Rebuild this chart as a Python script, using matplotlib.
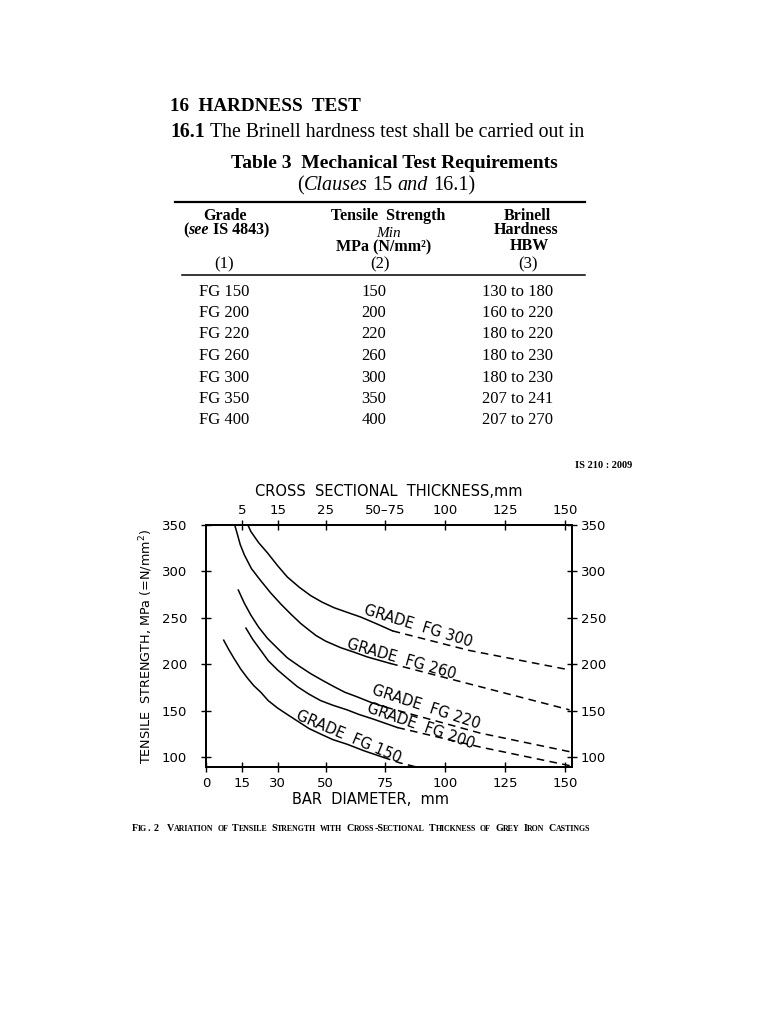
'''
plot.py - IS 210 page: Table 3 and Fig. 2 (tensile strength vs section size)
'''

import matplotlib
matplotlib.use('Agg')
import matplotlib.pyplot as plt
from matplotlib.lines import Line2D

# Table 3 Mechanical Test Requirements
grades = ['FG 150', 'FG 200', 'FG 220', 'FG 260', 'FG 300', 'FG 350', 'FG 400']
tensile_min = [150, 200, 220, 260, 300, 350, 400]
hardness = ['130 to 180', '160 to 220', '180 to 220', '180 to 230',
            '180 to 230', '207 to 241', '207 to 270']

# Fig. 2 axes
bar_ticks = [0, 15, 30, 50, 75, 100, 125, 150]
thick_ticks = [15, 30, 50, 75, 100, 125, 150]
thick_labels = ['5', '15', '25', '50\u201375', '100', '125', '150']
strength_ticks = [100, 150, 200, 250, 300, 350]

# curves: bar diameter (mm) -> tensile strength (MPa)
fg300_x = [17.5, 18.75, 22, 25.7, 30, 34, 39, 43.75, 48.5, 53.5, 59, 64.6, 71, 78]
fg300_y = [350, 343, 331, 320, 306, 294, 283, 274, 267, 261, 256, 251, 244, 236]
fg300_dx = [78, 110, 152]
fg300_dy = [236, 215, 194]

fg260_x = [12, 12.9, 14.3, 16, 19, 22.9, 27, 31.25, 35.5, 39.6, 43, 46, 50, 56.25, 62, 67.4, 77]
fg260_y = [350, 342, 329, 318, 303, 290, 277, 265, 254, 244, 237, 231, 225, 218, 213, 208, 201]
fg260_dx = [77, 110, 152]
fg260_dy = [201, 179, 151]

fg220_x = [13.5, 16, 18.75, 22, 25.7, 30, 34, 39, 43.75, 48.5, 53.5, 58, 63.2, 69, 75]
fg220_y = [280, 266, 253, 240, 228, 217, 207, 198, 190, 183, 176, 170, 165, 159, 154]
fg220_dx = [75, 114.6, 152]
fg220_dy = [154, 126, 106]

fg200_x = [16.7, 19.5, 22.9, 26, 29.9, 34, 38.2, 43, 47.9, 53, 59, 64, 70, 75, 80]
fg200_y = [239, 227, 215, 204, 194, 185, 176, 168, 161, 156, 151, 146, 141, 136.5, 132]
fg200_dx = [80, 114.6, 152]
fg200_dy = [132, 111, 91]

fg150_x = [7.4, 9.5, 11.8, 14.5, 17.4, 20, 22.9, 26, 29.9, 34, 38.2, 43, 47.9, 53, 59, 66, 74]
fg150_y = [226, 216, 206, 195, 185, 177, 170, 161, 153, 146, 139, 131, 125, 119, 114, 107, 100]
fg150_dx = [74, 81, 88]
fg150_dy = [100, 94, 89.5]

W, H = 768, 1024
fig = plt.figure(figsize=(W / 100, H / 100), dpi=100)
renderer = fig.canvas.get_renderer()
SERIF = 'Liberation Serif'


def fx(px):
    return px / W


def fy(py):
    return 1 - py / H


def text_width(s, **kw):
    t = fig.text(0, 0, s, **kw)
    w = t.get_window_extent(renderer).width
    t.remove()
    return w


# write a line made of runs with different styles, one after the other
def put_runs(px, py, runs, ha='left', space=0.25):
    pieces = []
    total = 0
    for s, kw in runs:
        core = s.strip(' ')
        lead = len(s) - len(s.lstrip(' '))
        trail = len(s) - len(s.rstrip(' '))
        sp = space * kw.get('size', 10) * 100 / 72
        total += lead * sp
        pieces.append((total, core, kw))
        if core:
            total += text_width(core, **kw)
        total += trail * sp
    x0 = px - (total / 2 if ha == 'center' else 0)
    for off, core, kw in pieces:
        if core:
            fig.text(fx(x0 + off), fy(py), core, va='baseline', **kw)


# small caps: capitals big, lower case letters as small capitals
def small_caps(px, py, s, big=7.2, small=5.7):
    runs = []
    for word in s.split(' '):
        if runs:
            runs.append((' ', dict(family=SERIF, weight='bold', size=big)))
        cur = ''
        low = None
        for ch in word:
            is_low = ch.islower()
            if low is not None and is_low != low:
                runs.append((cur.upper(), dict(family=SERIF, weight='bold',
                                               size=small if low else big)))
                cur = ''
            cur += ch
            low = is_low
        if cur:
            runs.append((cur.upper(), dict(family=SERIF, weight='bold',
                                           size=small if low else big)))
    put_runs(px, py, runs, ha='center', space=0.2)


# ---------------- page text ----------------
fig.text(fx(170), fy(111), '16  HARDNESS  TEST', family=SERIF, weight='bold',
         size=13.8, va='baseline')
put_runs(170, 137, [('16.1', dict(family=SERIF, weight='bold', size=14.2)),
                    (' The Brinell hardness test shall be carried out in',
                     dict(family=SERIF, size=14.2))])
fig.text(fx(394), fy(168), 'Table 3  Mechanical Test Requirements', family=SERIF,
         weight='bold', size=14, ha='center', va='baseline')
put_runs(386, 190, [('(', dict(family=SERIF, size=14.5)),
                    ('Clauses', dict(family=SERIF, style='italic', size=14.5)),
                    (' 15 ', dict(family=SERIF, size=14.5)),
                    ('and', dict(family=SERIF, style='italic', size=14.5)),
                    (' 16.1)', dict(family=SERIF, size=14.5))], ha='center')

# table rules
fig.add_artist(Line2D([fx(175), fx(585)], [fy(202), fy(202)], color='black', lw=1.6))
fig.add_artist(Line2D([fx(182), fx(585)], [fy(275), fy(275)], color='black', lw=1.1))

hb = dict(family=SERIF, weight='bold', size=11.5, ha='center', va='baseline')
fig.text(fx(225), fy(220), 'Grade', **hb)
put_runs(226, 234, [('(', dict(family=SERIF, weight='bold', size=11.5)),
                    ('see', dict(family=SERIF, weight='bold', style='italic', size=11.5)),
                    (' IS 4843)', dict(family=SERIF, weight='bold', size=11.5))],
         ha='center')
fig.text(fx(388), fy(220), 'Tensile  Strength', **hb)
fig.text(fx(388), fy(237), 'Min', family=SERIF, style='italic', size=11,
         ha='center', va='baseline')
fig.text(fx(384), fy(251), 'MPa (N/mm\u00b2)', **hb)
fig.text(fx(527), fy(220), 'Brinell', **hb)
fig.text(fx(526), fy(234), 'Hardness', **hb)
fig.text(fx(529), fy(250), 'HBW', **hb)

hn = dict(family=SERIF, size=12, ha='center', va='baseline')
fig.text(fx(224), fy(268), '(1)', **hn)
fig.text(fx(380), fy(268), '(2)', **hn)
fig.text(fx(528), fy(268), '(3)', **hn)

row_base = [296, 317, 338, 360, 382, 403, 424]
for g, t, h, yb in zip(grades, tensile_min, hardness, row_base):
    fig.text(fx(224), fy(yb), g, **hn)
    fig.text(fx(374), fy(yb), str(t), **hn)
    fig.text(fx(518), fy(yb), h, **hn)

fig.text(fx(632), fy(468), 'IS 210 : 2009', family=SERIF, weight='bold',
         size=7.5, ha='right', va='baseline')

# ---------------- Fig. 2 ----------------
ax = fig.add_axes([fx(206), fy(767), (572 - 206) / W, (767 - 525) / H])
ax.set_xlim(0, 153)
ax.set_ylim(89.5, 350)

solid = dict(color='black', lw=1.1)
dashed = dict(color='black', lw=1.1, linestyle=(0, (5, 3.5)))
for sx, sy, dx, dy in [(fg300_x, fg300_y, fg300_dx, fg300_dy),
                       (fg260_x, fg260_y, fg260_dx, fg260_dy),
                       (fg220_x, fg220_y, fg220_dx, fg220_dy),
                       (fg200_x, fg200_y, fg200_dx, fg200_dy),
                       (fg150_x, fg150_y, fg150_dx, fg150_dy)]:
    ax.plot(sx, sy, **solid)
    ax.plot(dx, dy, **dashed)

lab = dict(size=10.5, ha='center', va='center', rotation_mode='anchor')
ax.text(88.7, 241, 'GRADE  FG 300', rotation=-17, **lab)
ax.text(81.7, 206, 'GRADE  FG 260', rotation=-16, **lab)
ax.text(92, 154, 'GRADE  FG 220', rotation=-18, **lab)
ax.text(90, 134, 'GRADE  FG 200', rotation=-19, **lab)
ax.text(59.6, 122, 'GRADE  FG 150', rotation=-23, **lab)

for s in ax.spines.values():
    s.set_linewidth(1.1)

ax.set_xticks(bar_ticks)
ax.set_xticklabels([str(v) for v in bar_ticks])
ax.set_yticks(strength_ticks)
ax.set_yticklabels([str(v) for v in strength_ticks])
ax.tick_params(axis='x', direction='inout', length=7, width=1.0, labelsize=9.5, pad=4)
ax.tick_params(axis='y', direction='inout', length=7, width=1.0, labelsize=9.5, pad=10)
ax.set_xlabel('BAR  DIAMETER,  mm', size=10.5)
ax.xaxis.set_label_coords(0.45, -0.105)
ax.set_ylabel('TENSILE  STRENGTH, MPa (=N/mm$^2$)', size=9.2, labelpad=5)

top = ax.twiny()
top.set_xlim(ax.get_xlim())
top.set_xticks(thick_ticks)
top.set_xticklabels(thick_labels)
top.tick_params(axis='x', direction='inout', length=7, width=1.0, labelsize=9.5, pad=2)
top.set_xlabel('CROSS  SECTIONAL  THICKNESS,mm', size=10.5, labelpad=6)

right = ax.twinx()
right.set_ylim(ax.get_ylim())
right.set_yticks(strength_ticks)
right.set_yticklabels([str(v) for v in strength_ticks])
right.tick_params(axis='y', direction='inout', length=7, width=1.0, labelsize=9.5, pad=3)
for a in (top, right):
    for s in a.spines.values():
        s.set_linewidth(1.1)

small_caps(361, 831, 'Fig. 2  Variation of Tensile Strength with Cross-Sectional '
                     'Thickness of Grey Iron Castings')

fig.savefig('out.png', dpi=100, facecolor='white')
